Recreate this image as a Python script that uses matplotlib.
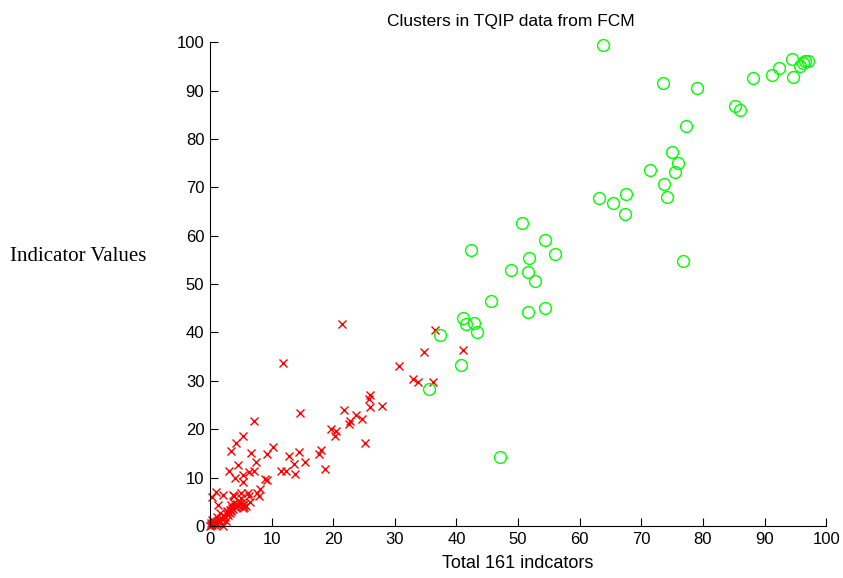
import matplotlib.pyplot as plt
import numpy as np

# cluster 1 (red crosses)
red_x = [21.4, 36.6, 11.8, 41.0, 34.8, 30.7, 32.9, 33.8, 36.2, 25.9, 25.8, 27.9, 26.0,
         21.8, 14.6, 23.7, 24.6, 22.8, 22.6, 19.7, 20.5, 20.3, 25.1, 18.0, 17.7, 12.9,
         14.5, 15.5, 13.6, 18.7, 13.8, 12.4, 11.5, 10.2, 9.2, 9.0, 9.2, 8.2, 8.0, 7.7,
         7.1, 5.3, 4.2, 3.5, 6.7, 7.5, 4.6, 3.1, 4.0, 5.4, 5.4, 6.3, 7.1,
         0.3, 1.0, 2.2, 1.3, 3.8, 5.0, 6.2, 5.1, 6.5, 5.1, 5.4, 3.9, 6.4,
         0.0, 0.2, 0.4, 0.5, 0.7, 0.9, 1.1, 1.2, 1.4, 1.6, 1.8, 2.0, 2.1, 2.3, 2.5, 2.7,
         2.9, 3.0, 3.2, 3.3, 3.5, 3.6, 3.8, 4.0, 4.2, 4.4, 4.6, 3.4, 3.9, 5.3, 5.6, 5.5,
         1.6, 1.1, 0.3, 0.8, 2.6, 4.1, 3.5, 0.1, 0.6, 2.8, 4.8, 5.8]
red_y = [41.8, 40.6, 33.6, 36.3, 35.9, 33.0, 30.4, 29.8, 29.8, 27.1, 26.2, 24.8, 24.5,
         23.9, 23.3, 23.0, 22.2, 21.8, 21.0, 20.0, 19.6, 18.7, 17.2, 15.7, 14.9, 14.5,
         15.2, 13.3, 12.9, 11.8, 10.7, 11.3, 11.3, 16.3, 14.8, 9.8, 9.5, 7.6, 6.3, 6.9,
         21.8, 18.7, 17.2, 15.5, 15.1, 13.3, 12.6, 11.4, 9.9, 10.5, 9.0, 11.2, 11.4,
         5.9, 7.0, 6.4, 4.3, 6.4, 6.8, 6.8, 5.7, 5.0, 4.7, 3.7, 6.3, 6.3,
         0.0, 0.3, 0.1, 0.6, 0.4, 0.8, 1.0, 0.5, 1.3, 1.1, 1.6, 1.4, 0.0, 2.0, 1.8, 2.4,
         2.2, 2.9, 2.6, 3.3, 3.1, 3.8, 3.5, 4.1, 3.9, 4.5, 4.2, 4.3, 4.8, 4.3, 4.5, 3.9,
         2.6, 1.9, 1.2, 0.2, 1.1, 4.0, 3.3, 0.6, 0.9, 3.0, 4.9, 4.1]

# cluster 2 (green circles)
green_x = [63.8, 94.4, 96.6, 97.0, 95.8, 96.2, 92.4, 91.2, 94.6, 88.2, 73.5, 79.0, 85.2,
           86.1, 77.3, 75.0, 76.0, 75.5, 71.4, 73.7, 74.1, 67.5, 63.1, 65.4, 67.3, 76.7,
           50.7, 42.4, 54.3, 56.0, 51.8, 48.8, 51.6, 52.8, 45.6, 54.3, 51.6, 41.0, 41.5,
           42.9, 43.3, 37.3, 40.7, 35.5, 47.1]
green_y = [99.4, 96.5, 96.1, 96.1, 95.0, 95.6, 94.7, 93.3, 92.9, 92.6, 91.5, 90.6, 86.8,
           86.0, 82.6, 77.3, 75.1, 73.2, 73.6, 70.7, 68.0, 68.6, 67.7, 66.8, 64.5, 54.8,
           62.7, 57.1, 59.2, 56.3, 55.3, 53.0, 52.5, 50.7, 46.6, 45.1, 44.2, 42.9, 41.7,
           41.9, 40.1, 39.5, 33.3, 28.4, 14.3]

ticks = np.arange(0, 101, 10)

fig = plt.figure(figsize=(8.43, 5.78), dpi=100)
ax = fig.add_axes([0.249, 0.090, 0.731, 0.837])

ax.plot(red_x, red_y, 'x', color='#ff0000', ms=5.5, mew=1, clip_on=False)
ax.plot(green_x, green_y, 'o', mfc='none', mec='#00ff00', ms=8.5, mew=1, clip_on=False)

ax.set_xlim(0, 100)
ax.set_ylim(0, 100)
ax.set_xticks(ticks)
ax.set_yticks(ticks)
ax.spines['top'].set_visible(False)
ax.spines['right'].set_visible(False)
ax.tick_params(direction='in', length=6, labelsize=12, pad=4)
for lbl in ax.get_xticklabels() + ax.get_yticklabels():
    lbl.set_family('Liberation Sans')

ax.set_title('Clusters in TQIP data from FCM', fontsize=12.5, family='Liberation Sans',
             x=0.489, pad=12)
ax.set_xlabel('Total 161 indcators', fontsize=13, family='Liberation Sans', labelpad=6)
fig.text(0.012, 0.557, 'Indicator Values', fontsize=15, family='Liberation Serif',
         va='center', ha='left')

fig.savefig('out.png', dpi=100)
